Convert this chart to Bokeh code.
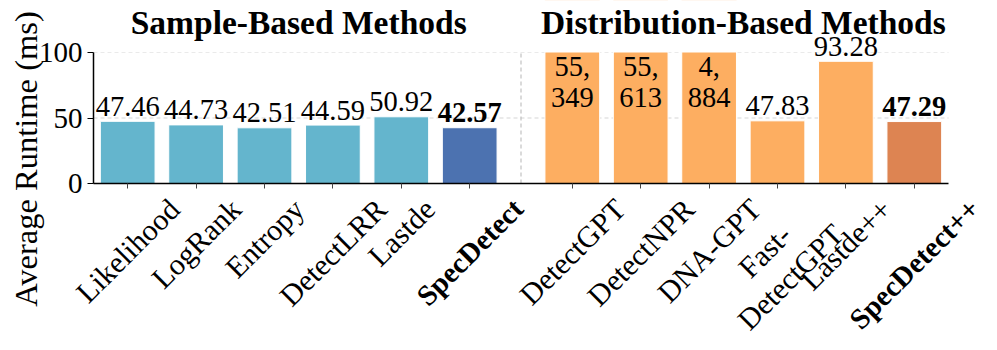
import math
from bokeh.plotting import figure
from bokeh.models import Range1d, FixedTicker, Label, LinearAxis, ColumnDataSource
from bokeh.embed import file_html
from bokeh.resources import INLINE

# ---------------- data ----------------
sample_methods = ["Likelihood", "LogRank", "Entropy", "DetectLRR", "Lastde", "SpecDetect"]
sample_runtime = [47.46, 44.73, 42.51, 44.59, 50.92, 42.57]
dist_methods = ["DetectGPT", "DetectNPR", "DNA-GPT", "Fast-\nDetectGPT", "Lastde++", "SpecDetect++"]
dist_runtime = [55349, 55613, 4884, 47.83, 93.28, 47.29]
bold_methods = ["SpecDetect", "SpecDetect++"]
group_titles = ["Sample-Based Methods", "Distribution-Based Methods"]
y_ticks = [0, 50, 100]
y_label = "Average Runtime (ms)"

# ---------------- layout / style ----------------
FONT = "Liberation Serif"
C_SAMPLE, C_SAMPLE_OURS = "#64B5CD", "#4C72B0"
C_DIST, C_DIST_OURS = "#FDAE61", "#DD8452"
W, H = 989, 342
AX_L, AX_R, AX_T, AX_B = 93, 948, 52, 183          # axes box in canvas px
XMIN, XMAX, YMIN, YMAX = -0.5, 12.0, 0, 100         # axes box in data units
PXU_X = (AX_R - AX_L) / (XMAX - XMIN)
PXU_Y = (AX_B - AX_T) / (YMAX - YMIN)

# Times metrics (per 1000 em) for label size estimation
W_REG = {' ': 250, '+': 564, '-': 333, '.': 250, 'A': 722, 'D': 722, 'E': 611, 'F': 556, 'G': 722,
         'L': 611, 'N': 722, 'P': 556, 'R': 667, 'S': 556, 'T': 611, 'a': 444, 'c': 444, 'd': 500,
         'e': 444, 'g': 500, 'h': 500, 'i': 278, 'k': 500, 'l': 278, 'n': 500, 'o': 500, 'p': 500,
         'r': 333, 's': 389, 't': 278, 'y': 500}
W_BOLD = dict(W_REG, **{'p': 556, 't': 333, '+': 570})


def text_width(s, fs, bold):
    tbl = W_BOLD if bold else W_REG
    return max(sum(tbl.get(ch, 500) for ch in line) for line in s.split("\n")) * fs / 1000.0


methods = sample_methods + dist_methods
runtime = sample_runtime + dist_runtime
n1 = len(sample_methods)
xpos = [float(i) for i in range(n1)] + [n1 + 0.5 + i for i in range(len(dist_methods))]
colors = [C_SAMPLE_OURS if m in bold_methods else C_SAMPLE for m in sample_methods] + \
         [C_DIST_OURS if m in bold_methods else C_DIST for m in dist_methods]

x_range = Range1d(XMIN - AX_L / PXU_X, XMAX + (W - AX_R) / PXU_X)
y_range = Range1d(YMIN - (H - AX_B) / PXU_Y, YMAX + AX_T / PXU_Y)

p = figure(width=W, height=H, output_backend="svg", toolbar_location=None,
           x_range=x_range, y_range=y_range, x_axis_location=None, y_axis_location=None,
           min_border=0)
p.background_fill_color = "white"
p.border_fill_color = "white"
p.outline_line_color = None
p.xgrid.visible = False
p.ygrid.visible = False

# grid lines (dashed) inside the axes box
gy = [t for t in y_ticks if t > YMIN]
p.segment(x0=[XMIN] * len(gy), x1=[XMAX] * len(gy), y0=gy, y1=gy,
          line_color="#d5d5d5", line_dash="4 3", line_width=1)

src = ColumnDataSource(dict(x=xpos, top=runtime, color=colors))
p.vbar(x="x", top="top", width=0.8, bottom=0, source=src, fill_color="color",
       line_color="white", line_width=1)
# cover bar overflow above the axes box
p.quad(left=[x_range.start], right=[x_range.end], bottom=[YMAX], top=[y_range.end],
       fill_color="white", line_color=None)

# separator between groups
sep = (xpos[n1 - 1] + xpos[n1]) / 2
p.segment(x0=[sep], x1=[sep], y0=[YMIN], y1=[YMAX], line_color="#b5b5b5",
          line_dash="4 3", line_width=1)

# axes pinned to the axes box
yax = LinearAxis(fixed_location=XMIN, bounds=(YMIN, YMAX), ticker=FixedTicker(ticks=y_ticks))
yax.major_label_text_font = FONT
yax.major_label_text_font_size = "29px"
yax.major_label_text_color = "black"
yax.major_tick_in = 0
yax.major_tick_out = 6
yax.minor_tick_line_color = None
yax.axis_line_color = "black"
yax.axis_line_width = 1.5
yax.major_tick_line_color = "black"
yax.major_tick_line_width = 1.2
yax.major_label_standoff = 5
p.add_layout(yax, "left")

xax = LinearAxis(fixed_location=YMIN, bounds=(XMIN, XMAX), ticker=FixedTicker(ticks=xpos))
xax.major_label_overrides = {x: "" for x in xpos}
xax.major_label_text_font_size = "1px"
xax.major_tick_in = 0
xax.major_tick_out = 5
xax.minor_tick_line_color = None
xax.axis_line_color = "black"
xax.axis_line_width = 1.5
xax.major_tick_line_color = "#444444"
p.add_layout(xax, "below")

# y axis label
p.add_layout(Label(x=XMIN - (AX_L - 25) / PXU_X, y=18.7, text=y_label, angle=math.pi / 2,
                   text_align="center", text_baseline="middle", text_font=FONT,
                   text_font_size="32.5px", text_color="black"))

# group titles
centers = [sum(xpos[:n1]) / n1, sum(xpos[n1:]) / len(dist_methods)]
for t, cx in zip(group_titles, centers):
    p.add_layout(Label(x=cx, y=YMAX + (AX_T - 22) / PXU_Y, text=t, text_align="center",
                       text_baseline="middle", text_font=FONT, text_font_size="33.5px",
                       text_font_style="bold", text_color="black"))

# value labels
VFS = 28.5
for x, v, m in zip(xpos, runtime, methods):
    style = "bold" if m in bold_methods else "normal"
    if v <= YMAX:
        p.add_layout(Label(x=x, y=v + 15 / PXU_Y, text=f"{v:.2f}", text_align="center",
                           text_baseline="middle", text_font=FONT,
                           text_font_size=f"{VFS}px", text_font_style=style, text_color="black"))
    else:
        txt = f"{v:,.0f}".replace(",", ",\n")
        p.add_layout(Label(x=x, y=YMAX - 22.5, text=txt, text_align="center",
                           text_baseline="middle", text_font=FONT, text_font_size=f"{VFS}px",
                           text_font_style=style, text_line_height=1.0, text_color="black"))

# rotated x tick labels (bounding box centred under the tick)
for x, m in zip(xpos, methods):
    bold = m in bold_methods
    fs = 29 if bold else 30
    nlines = m.count("\n") + 1
    L = text_width(m, fs, bold)
    h = fs * (0.8 + 1.15 * (nlines - 1))
    center_px = 12 + 0.7071 * (L + h) / 2
    p.add_layout(Label(x=x, y=YMIN - center_px / PXU_Y, text=m, angle=math.pi / 4,
                       text_align="center", text_baseline="middle", text_font=FONT,
                       text_font_size=f"{fs}px", text_font_style="bold" if bold else "normal",
                       text_line_height=1.1, text_color="black"))

open("out.html", "w").write(file_html(p, INLINE))
